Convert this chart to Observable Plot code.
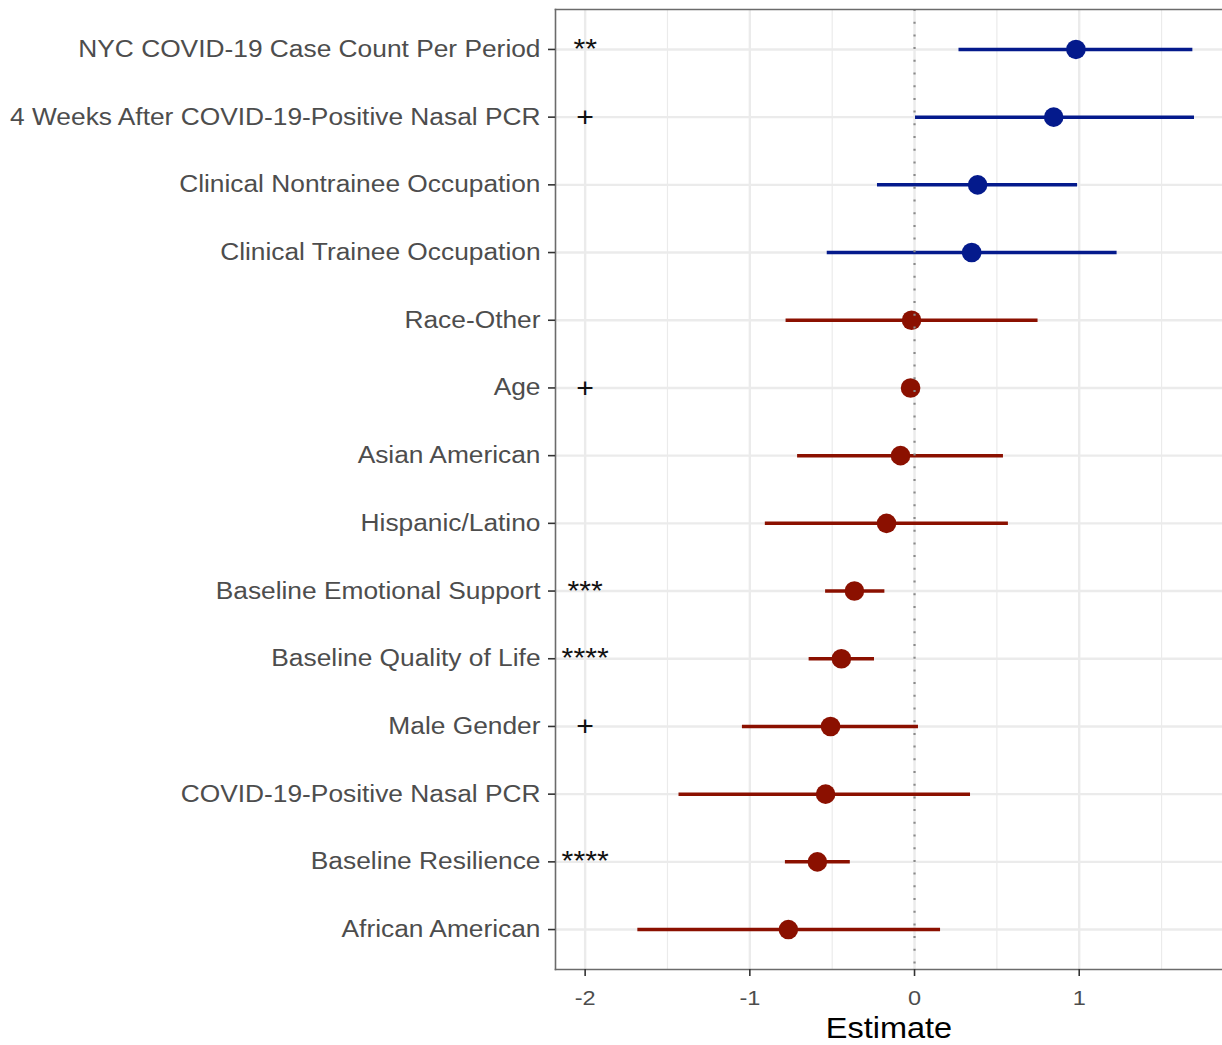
<!DOCTYPE html>
<html>
<head>
<meta charset="utf-8">
<script src="https://cdn.jsdelivr.net/npm/d3@7"></script>
<script src="https://cdn.jsdelivr.net/npm/@observablehq/plot@0.6"></script>
<style>
  html, body { margin: 0; padding: 0; background: #fff; }
  #chart svg { display: block; font-family: "Liberation Sans", Arial, Helvetica, sans-serif; }
</style>
</head>
<body>
<div id="chart"></div>
<script>
const terms = [
  "NYC COVID-19 Case Count Per Period",
  "4 Weeks After COVID-19-Positive Nasal PCR",
  "Clinical Nontrainee Occupation",
  "Clinical Trainee Occupation",
  "Race-Other",
  "Age",
  "Asian American",
  "Hispanic/Latino",
  "Baseline Emotional Support",
  "Baseline Quality of Life",
  "Male Gender",
  "COVID-19-Positive Nasal PCR",
  "Baseline Resilience",
  "African American"
];
const estimates = [0.98, 0.845, 0.383, 0.347, -0.018, -0.024, -0.085, -0.17, -0.365, -0.444, -0.51, -0.54, -0.59, -0.766];
const lows      = [0.27, 0.006, -0.225, -0.53, -0.78, -0.032, -0.71, -0.906, -0.54, -0.64, -1.045, -1.43, -0.784, -1.68];
const highs     = [1.69, 1.70, 0.99, 1.23, 0.75, -0.016, 0.54, 0.57, -0.18, -0.243, 0.024, 0.34, -0.39, 0.158];
const direction = ["pos","pos","pos","pos","neg","neg","neg","neg","neg","neg","neg","neg","neg","neg"];
const signif    = ["**","+","","","","+","","","***","****","+","","****",""];
const sigX = -2;
const majorTicks = [-2, -1, 0, 1];
const minorTicks = [-1.5, -0.5, 0.5, 1.5];

const rows = terms.map((t, i) => ({
  term: t, est: estimates[i], lo: lows[i], hi: highs[i], dir: direction[i], sig: signif[i]
}));

const colorScale = {domain: ["pos", "neg"], range: ["#041a8c", "#8b1000"]};

const chart = Plot.plot({
  width: 1222,
  height: 1045,
  marginLeft: 555,
  marginRight: 0,
  marginTop: 9,
  marginBottom: 76,
  style: {fontFamily: "'Liberation Sans', Arial, Helvetica, sans-serif", background: "#fff"},
  x: {domain: [-2.18, 1.87]},
  y: {type: "point", domain: terms, padding: 0.59, round: false},
  color: colorScale,
  marks: [
    Plot.ruleX(minorTicks, {stroke: "#ebebeb", strokeWidth: 1.2}),
    Plot.ruleX(majorTicks, {stroke: "#ebebeb", strokeWidth: 2.4}),
    Plot.ruleY(terms, {y: d => d, stroke: "#ebebeb", strokeWidth: 2.4}),
    Plot.ruleY(rows, {y: "term", x1: "lo", x2: "hi", stroke: "dir", strokeWidth: 3.5}),
    Plot.dot(rows, {x: "est", y: "term", fill: "dir", r: 9.8, stroke: null}),
    Plot.ruleX([0], {stroke: "#8a8a8a", strokeWidth: 2.2, strokeDasharray: "2,10.7"}),
    Plot.text(rows.filter(d => d.sig), {x: () => sigX, y: "term", text: "sig", fontSize: 27, fill: "#111"}),
    Plot.frame({anchor: "top", stroke: "#6b6b6b", strokeWidth: 1.6}),
    Plot.frame({anchor: "left", stroke: "#6b6b6b", strokeWidth: 1.6}),
    Plot.frame({anchor: "bottom", stroke: "#6b6b6b", strokeWidth: 1.6}),
    Plot.axisX({ticks: majorTicks, tickSize: 7, tickPadding: 14, fontSize: 21, fill: "#4d4d4d", stroke: "#333", strokeWidth: 1.6, label: null, tickFormat: d => String(d).replace("\u2212", "-")}),
    Plot.axisY({tickSize: 7, tickPadding: 8, fontSize: 23.5, fill: "#4d4d4d", stroke: "#333", strokeWidth: 1.6, label: null}),
    Plot.text(["Estimate"], {frameAnchor: "bottom", lineAnchor: "middle", dy: 59.5, fontSize: 29, fill: "#000"})
  ]
});
document.getElementById("chart").appendChild(chart);

// The reference renders its text slightly wider than it is tall; stretch glyphs horizontally to match.
const stretch = 1.12;
chart.querySelectorAll("text").forEach(t => {
  const len = t.getComputedTextLength();
  if (len > 0) {
    t.setAttribute("textLength", (len * stretch).toFixed(2));
    t.setAttribute("lengthAdjust", "spacingAndGlyphs");
  }
});
</script>
</body>
</html>
